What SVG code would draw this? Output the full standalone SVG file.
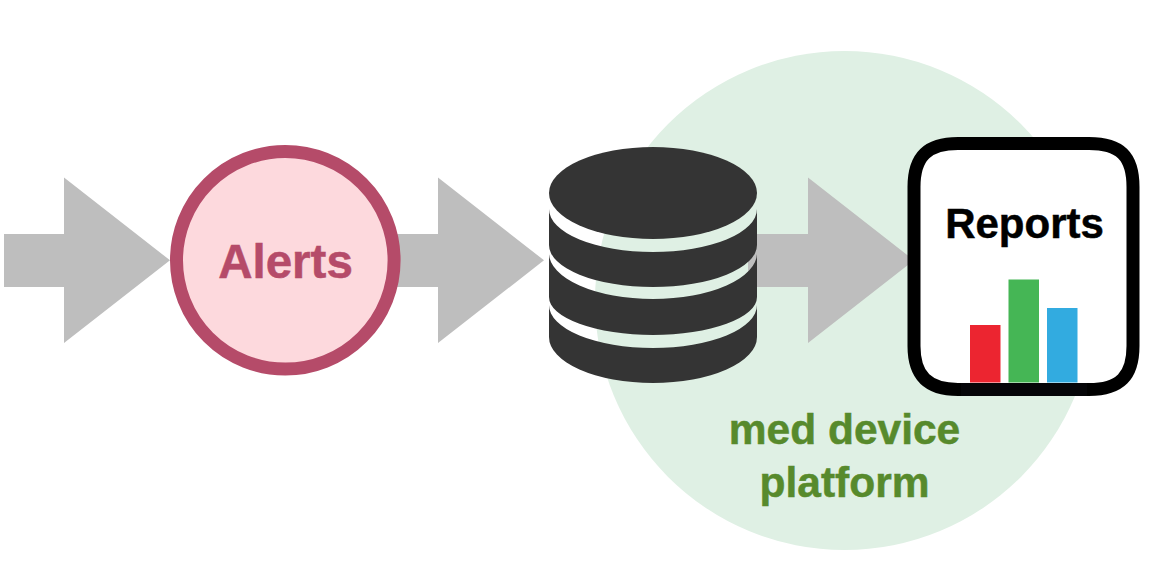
<svg xmlns="http://www.w3.org/2000/svg" width="1166" height="572" viewBox="0 0 1166 572">
<style>
.arrow{fill:#bebebe}
text{font-family:"Liberation Sans",Arial,Helvetica,sans-serif;font-weight:700;text-anchor:middle;stroke-width:.5}
.db{fill:#343434}
.green{fill:#578a2c;stroke:#578a2c;font-size:42.500px}
</style>
<rect width="1166" height="572" fill="#ffffff"/>
<circle id="platform-bg" cx="844.500" cy="300.500" r="249.500" fill="#dff0e4"/>
<g id="connectors">
<path class="arrow" d="M4 234H64V177.500L170 260.300L64 343V287H4Z"/>
<path class="arrow" d="M395 234H438V177.500L544 260.300L438 343V287H395Z"/>
<path class="arrow" d="M748 234H808V177.500L914 260.300L808 343V287H748Z"/>
</g>
<g id="alerts">
<circle cx="285.300" cy="260.300" r="108.800" fill="#fdd9dd" stroke="#b54b69" stroke-width="13"/>
<text x="285.500" y="277.500" font-size="47.500" fill="#b54b69" stroke="#b54b69">Alerts</text>
</g>
<g id="database">
<ellipse class="db" cx="653" cy="193" rx="104" ry="46"/>
<path class="db" d="M549 209A104 43 0 0 0 757 209V245A104 42 0 0 1 549 245Z"/>
<path class="db" d="M549 253A104 46 0 0 0 757 253V297A104 38 0 0 1 549 297Z"/>
<path class="db" d="M549 305A104 43 0 0 0 757 305V337A104 46 0 0 1 549 337Z"/>
</g>
<g id="reports">
<path d="M958 143.500H1089C1120 143.500 1133 156 1133 187V346C1133 376 1120 389.500 1089 389.500H958C928 389.500 914 376 914 346V187C914 156 928 143.500 958 143.500Z" fill="#ffffff" stroke="#000000" stroke-width="13"/>
<rect x="961" y="383" width="126" height="13" fill="#050508"/>
<text x="1024.500" y="238" font-size="42" fill="#000000" stroke="#000000">Reports</text>
<rect x="970" y="325" width="30.500" height="57.500" fill="#ec2530"/>
<rect x="1008.500" y="279.500" width="30.500" height="103" fill="#45b655"/>
<rect x="1047" y="308" width="30.500" height="74.500" fill="#32abe0"/>
</g>
<g id="platform-label">
<text class="green" x="844.500" y="444">med device</text>
<text class="green" x="844.500" y="497">platform</text>
</g>
</svg>
